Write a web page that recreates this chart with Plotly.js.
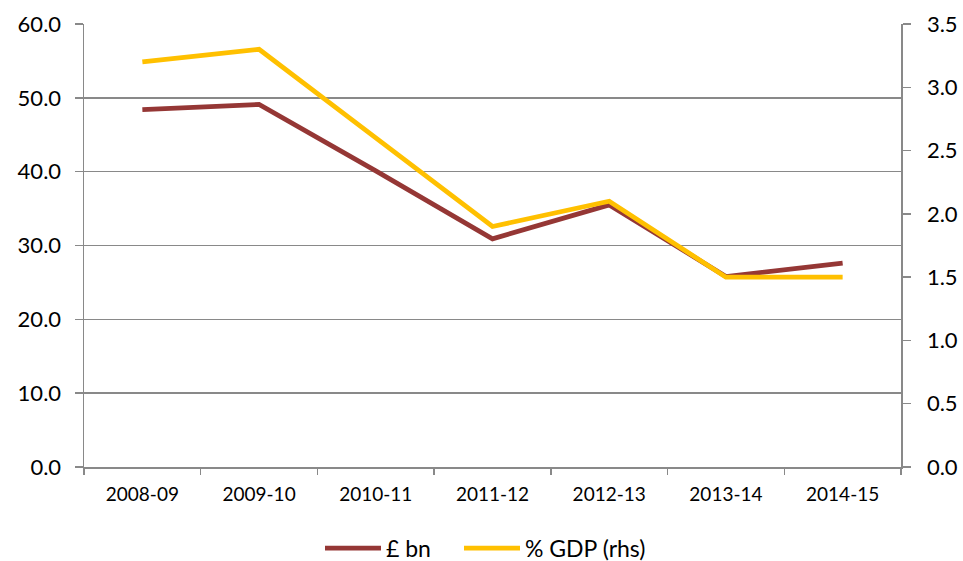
<!DOCTYPE html>
<html>
<head>
<meta charset="utf-8">
<script src="https://cdn.plot.ly/plotly-3.0.1.min.js"></script>
<style>
  html, body { margin: 0; padding: 0; background: #fff; }
  #chart { width: 963px; height: 561px; }
</style>
</head>
<body>
<div id="chart"></div>
<script>
// Financial years on the category axis
const years = ['2008-09', '2009-10', '2010-11', '2011-12', '2012-13', '2013-14', '2014-15'];
// Cash amount, £ billion (left axis)
const poundBn = [48.4, 49.1, 40.1, 30.9, 35.5, 25.8, 27.6];
// Share of GDP, per cent (right axis)
const pctGdp = [3.2, 3.3, 2.6, 1.9, 2.1, 1.5, 1.5];

const FONT = 'Lato, "Open Sans", sans-serif';
const GRID = '#898989';

const traces = [
  {
    x: years, y: poundBn, name: '£ bn', type: 'scatter', mode: 'lines',
    line: { color: '#953735', width: 4.8 }, yaxis: 'y', legend: 'legend'
  },
  {
    x: years, y: pctGdp, name: '% GDP (rhs)', type: 'scatter', mode: 'lines',
    line: { color: '#FFC000', width: 4.8 }, yaxis: 'y2', legend: 'legend2'
  }
];

// one legend box per series so each entry can sit at its own spot
const legendBase = {
  orientation: 'h', xref: 'container', yref: 'container',
  xanchor: 'left', y: 0.023, yanchor: 'middle', itemwidth: 56,
  font: { size: 23, family: FONT, color: '#000' }
};

const layout = {
  width: 963, height: 561,
  margin: { l: 84, r: 62, t: 24, b: 94 },
  paper_bgcolor: '#fff', plot_bgcolor: '#fff',
  font: { family: FONT, color: '#000' },
  showlegend: true,
  legend: Object.assign({}, legendBase, { x: 320 / 963 }),
  legend2: Object.assign({}, legendBase, { x: 459 / 963 }),
  xaxis: {
    type: 'category', range: [-0.5, years.length - 0.5],
    tickson: 'boundaries', ticks: 'outside', ticklen: 6,
    tickcolor: GRID, tickwidth: 1.5, showline: true, linecolor: GRID, linewidth: 1.5,
    showgrid: false, tickfont: { size: 19, family: FONT }, ticklabelstandoff: 10,
    fixedrange: true
  },
  yaxis: {
    range: [0, 60], dtick: 10, tickformat: '.1f', ticks: 'outside', ticklen: 8,
    tickcolor: GRID, tickwidth: 1.5, showline: true, linecolor: GRID, linewidth: 1.5,
    showgrid: true, gridcolor: GRID, gridwidth: 1.5, zeroline: false,
    tickfont: { size: 22, family: FONT }, ticklabelstandoff: 9
  },
  yaxis2: {
    overlaying: 'y', side: 'right', range: [0, 3.5], dtick: 0.5, tickformat: '.1f',
    ticks: 'outside', ticklen: 8, tickcolor: GRID, tickwidth: 1.5,
    showline: true, linecolor: GRID, linewidth: 1.5, showgrid: false, zeroline: false,
    tickfont: { size: 22, family: FONT }, ticklabelstandoff: 12
  }
};

Plotly.newPlot('chart', traces, layout, { staticPlot: true, displayModeBar: false });
</script>
</body>
</html>
